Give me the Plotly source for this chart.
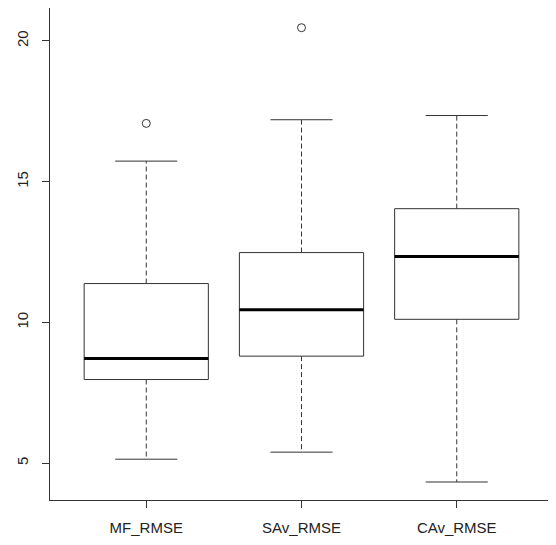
import plotly.graph_objects as go

categories = ["MF_RMSE", "SAv_RMSE", "CAv_RMSE"]
lower_whisker = [5.14, 5.39, 4.33]
q1 = [7.97, 8.80, 10.11]
median = [8.72, 10.45, 12.34]
q3 = [11.38, 12.48, 14.04]
upper_whisker = [15.73, 17.20, 17.35]
outliers = [[17.07], [20.47], []]

LINE = "#333333"
fig = go.Figure()
bw = 0.4   # half box width (R boxwex 0.8)
cw = 0.2   # half staple width

for i, name in enumerate(categories):
    c = i + 1
    # dashed whiskers
    for a, b in [(q3[i], upper_whisker[i]), (q1[i], lower_whisker[i])]:
        fig.add_trace(go.Scatter(x=[c, c], y=[a, b], mode="lines",
                                 line=dict(color=LINE, width=1, dash="5px,3px"),
                                 hoverinfo="skip", showlegend=False))
    # staples
    for v in (upper_whisker[i], lower_whisker[i]):
        fig.add_trace(go.Scatter(x=[c - cw, c + cw], y=[v, v], mode="lines",
                                 line=dict(color=LINE, width=1),
                                 hoverinfo="skip", showlegend=False))
    # box
    fig.add_trace(go.Scatter(x=[c - bw, c + bw, c + bw, c - bw, c - bw],
                             y=[q1[i], q1[i], q3[i], q3[i], q1[i]],
                             mode="lines", line=dict(color=LINE, width=1),
                             fill="toself", fillcolor="white",
                             hoverinfo="skip", showlegend=False))
    # median
    fig.add_trace(go.Scatter(x=[c - bw, c + bw], y=[median[i], median[i]], mode="lines",
                             line=dict(color="black", width=3),
                             hoverinfo="skip", showlegend=False))
    # outliers
    if outliers[i]:
        fig.add_trace(go.Scatter(x=[c] * len(outliers[i]), y=outliers[i], mode="markers",
                                 marker=dict(symbol="circle-open", size=8,
                                             color=LINE, line=dict(width=1)),
                                 showlegend=False))

axis_common = dict(showline=True, linecolor=LINE, linewidth=1, mirror=True,
                   ticks="outside", ticklen=7, tickcolor=LINE, tickwidth=1,
                   showgrid=False, zeroline=False,
                   tickfont=dict(family="Liberation Sans, Arial, sans-serif",
                                 size=15, color="#222222"))

fig.update_layout(
    width=548, height=537,
    margin=dict(l=42, r=3, t=0, b=45),
    paper_bgcolor="white", plot_bgcolor="white",
    xaxis=dict(range=[0.38, 3.62], tickvals=[1, 2, 3], ticktext=categories,
               ticklabelstandoff=7, **axis_common),
    yaxis=dict(range=[3.69, 21.17], tickvals=[5, 10, 15, 20], tickangle=-90,
               ticklabelstandoff=8, **axis_common),
)

fig.write_html("out.html")
